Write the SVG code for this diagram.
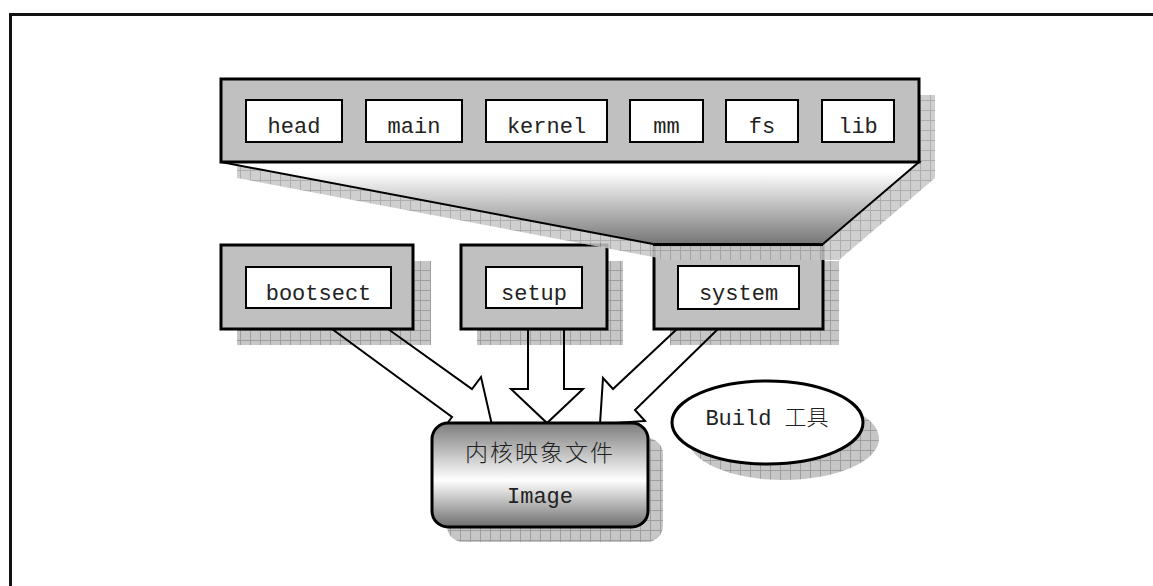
<svg xmlns="http://www.w3.org/2000/svg" width="1153" height="586" viewBox="0 0 1153 586">
<defs>
<pattern id="hatch" width="10" height="10" patternUnits="userSpaceOnUse">
<rect width="10" height="10" fill="#c6c6c6"/>
<path d="M0.5,0V10M0,0.5H10" stroke="#9e9e9e" stroke-width="1"/>
</pattern>
<linearGradient id="trapGrad" x1="0" y1="0" x2="0" y2="1">
<stop offset="0" stop-color="#ffffff"/>
<stop offset="0.12" stop-color="#ffffff"/>
<stop offset="1" stop-color="#767676"/>
</linearGradient>
<linearGradient id="imgGrad" x1="0" y1="0" x2="0" y2="1">
<stop offset="0" stop-color="#7c7c7c"/>
<stop offset="0.55" stop-color="#ffffff"/>
<stop offset="1" stop-color="#6e6e6e"/>
</linearGradient>
<style>
.shadow{fill:url(#hatch);stroke:none}
.outer{fill:#c0c0c0;stroke:#000;stroke-width:3}
.inner{fill:#fff;stroke:#000;stroke-width:2}
.lbl{font-family:"Liberation Mono","Noto Sans CJK SC",monospace;font-size:22px;fill:#222;text-anchor:middle}
.cjk{font-family:"Noto Sans CJK SC",sans-serif;font-size:23px;font-weight:300;fill:#222}
.arrow{fill:none;stroke:#000;stroke-width:2;stroke-linejoin:miter}
</style>
</defs>
<rect width="1153" height="586" fill="#fff"/>
<path d="M10.5,600V14.5H1160" fill="none" stroke="#111" stroke-width="3"/>

<g id="bootsect">
<rect class="shadow" x="237" y="261" width="194" height="84"/>
<rect class="outer" x="221" y="245" width="192" height="84"/>
<rect class="inner" x="246" y="267" width="145" height="41"/>
<text class="lbl" x="318.5" y="300">bootsect</text>
</g>
<g id="setup">
<rect class="shadow" x="477" y="261" width="146" height="84"/>
<rect class="outer" x="461" y="245" width="146" height="84"/>
<rect class="inner" x="486" y="267" width="96" height="41"/>
<text class="lbl" x="534" y="300">setup</text>
</g>
<g id="system">
<rect class="shadow" x="670" y="261" width="169" height="84"/>
<rect class="outer" x="654" y="245" width="169" height="84"/>
<rect class="inner" x="678" y="266" width="121" height="43"/>
<text class="lbl" x="738.5" y="300">system</text>
</g>

<g id="connectors">
<polyline class="arrow" points="332,329 452,417 443,429 492,425 481,377 472,389 388,329"/>
<polyline class="arrow" points="528,329 528,389 511,389 547,423 583,389 564,389 564,329"/>
<polyline class="arrow" points="677,329 613,389 603,378 600,424 645,421 635,410 718,329"/>
</g>

<g id="kernel-modules">
<polygon class="shadow" opacity="0.85" points="237,95 935,95 935,178 839,260 669,260 237,178"/>
<polygon points="221,162 919,162 823,244 653,244" fill="url(#trapGrad)" stroke="#000" stroke-width="2"/>
<line x1="653" y1="244.5" x2="823" y2="244.5" stroke="#000" stroke-width="3"/>
<rect class="outer" x="221" y="79" width="698" height="83"/>
<g id="head"><rect class="inner" x="246" y="100" width="96" height="42"/><text class="lbl" x="294" y="133">head</text></g>
<g id="main"><rect class="inner" x="366" y="100" width="96" height="42"/><text class="lbl" x="414" y="133">main</text></g>
<g id="kernel"><rect class="inner" x="486" y="100" width="121" height="42"/><text class="lbl" x="546.5" y="133">kernel</text></g>
<g id="mm"><rect class="inner" x="630" y="100" width="73" height="42"/><text class="lbl" x="666.5" y="133">mm</text></g>
<g id="fs"><rect class="inner" x="726" y="100" width="72" height="42"/><text class="lbl" x="762" y="133">fs</text></g>
<g id="lib"><rect class="inner" x="822" y="100" width="72" height="42"/><text class="lbl" x="858" y="133">lib</text></g>
</g>

<g id="image">
<rect class="shadow" x="447" y="438" width="216" height="104" rx="16"/>
<rect x="432" y="423" width="216" height="104" rx="16" fill="url(#imgGrad)" stroke="#000" stroke-width="3"/>
<text class="cjk" x="540" y="461" text-anchor="middle" letter-spacing="2">内核映象文件</text>
<text class="lbl" x="540" y="503">Image</text>
</g>

<g id="build">
<ellipse class="shadow" cx="783.5" cy="438.5" rx="95.5" ry="41.5"/>
<ellipse cx="767.5" cy="422.5" rx="95.5" ry="41.5" fill="#fff" stroke="#000" stroke-width="3"/>
<text class="lbl" x="767" y="425">Build <tspan style="font-family:'Noto Sans CJK SC',sans-serif;font-weight:300">工具</tspan></text>
</g>
</svg>
